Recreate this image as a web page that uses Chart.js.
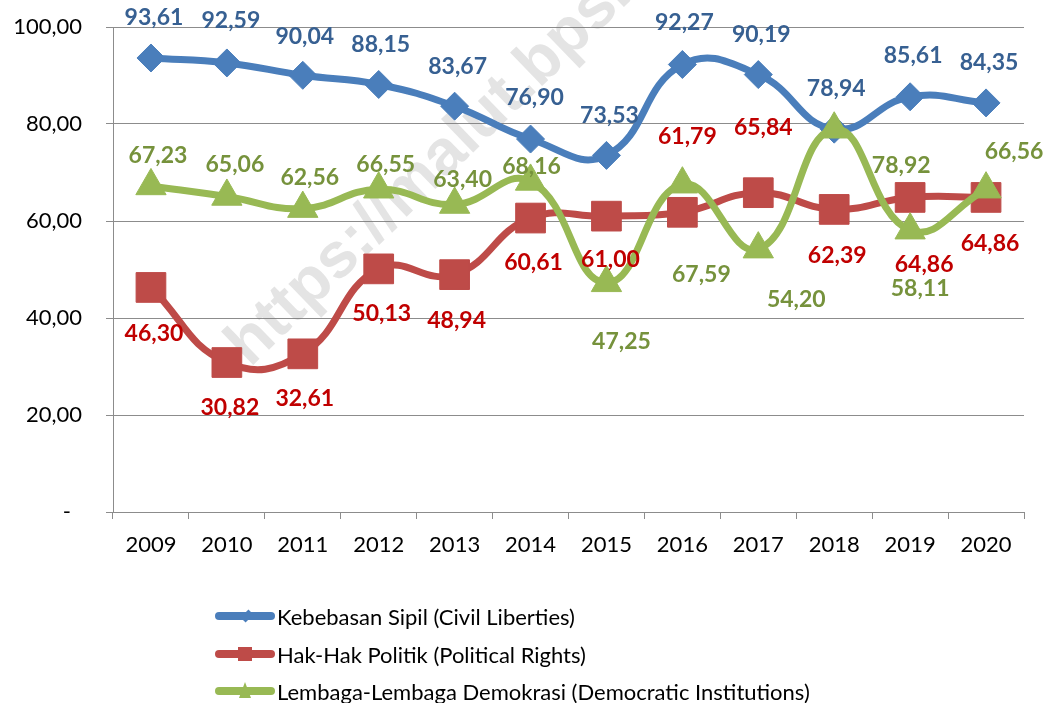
<!DOCTYPE html>
<html>
<head>
<meta charset="utf-8">
<script src="https://cdn.jsdelivr.net/npm/chart.js@4.4.1/dist/chart.umd.min.js"></script>
<style>
  html, body { margin: 0; padding: 0; background: #ffffff; }
  #wrap { position: relative; width: 1059px; height: 703px; overflow: hidden; }
  #c { position: absolute; left: 0; top: 0; }
  .leg { position: absolute; left: 215px; height: 30px; display: flex; align-items: center;
         font-family: Lato, "Noto Sans", sans-serif; font-size: 22px; color: #000; white-space: nowrap; }
  .icon { position: relative; width: 60px; height: 30px; margin-right: 2px; }
  .bar { position: absolute; left: 0; top: 11px; width: 60px; height: 8px; border-radius: 4px; }
  .mk { position: absolute; }
</style>
</head>
<body>
<div id="wrap">
  <canvas id="c" width="1059" height="703"></canvas>
  <div id="legend"></div>
</div>
<script>
// ---- data ----
const years = ['2009','2010','2011','2012','2013','2014','2015','2016','2017','2018','2019','2020'];
const seriesNames = [
  'Kebebasan Sipil (Civil Liberties)',
  'Hak-Hak Politik (Political Rights)',
  'Lembaga-Lembaga Demokrasi (Democratic Institutions)'
];
const civilLiberties = [93.61, 92.59, 90.04, 88.15, 83.67, 76.90, 73.53, 92.27, 90.19, 78.94, 85.61, 84.35];
const politicalRights = [46.30, 30.82, 32.61, 50.13, 48.94, 60.61, 61.00, 61.79, 65.84, 62.39, 64.86, 64.86];
const democraticInstitutions = [67.23, 65.06, 62.56, 66.55, 63.40, 68.16, 47.25, 67.59, 54.20, 78.92, 58.11, 66.56];
const yTicks = [0, 20, 40, 60, 80, 100];
const watermarkText = 'https://malut.bps.go.id';

// ---- label placement (pixel nudges relative to each point) ----
const labelNudge = [
  [[3,-41],[4,-43],[2,-40],[2,-41],[3,-41],[4,-42],[3,-41],[2,-43],[3,-41],[2,-41],[3,-42],[3,-41]],
  [[3,45],[3,44],[2,44],[3,44],[2,45],[3,44],[4,43],[5,-77],[5,-66],[3,45],[14,66],[4,45]],
  [[7,-31],[8,-33],[7,-32],[7,-26],[8,-26],[1,-16],[15,58],[19,90],[38,50],[67,35],[10,58],[28,-38]]
];

const lineColors = ['#4A7EBB', '#BE4B48', '#98B954'];
const labelColors = ['#376092', '#C00000', '#76923C'];
const pointStyles = ['rectRot', 'rect', 'triangle'];
const pointRadii = [14, 21, 17.5];
const fmt = v => v.toFixed(2).replace('.', ',');

const valueLabels = {
  id: 'valueLabels',
  afterDatasetsDraw(chart) {
    const ctx = chart.ctx;
    ctx.save();
    ctx.font = 'bold 23px Lato';
    ctx.textAlign = 'center';
    ctx.textBaseline = 'alphabetic';
    chart.data.datasets.forEach((ds, i) => {
      const meta = chart.getDatasetMeta(i);
      ctx.fillStyle = labelColors[i];
      meta.data.forEach((pt, j) => {
        const n = labelNudge[i][j];
        ctx.fillText(fmt(ds.data[j]), pt.x + n[0], pt.y + n[1] + 8.3);
      });
    });
    ctx.restore();
  }
};

const watermark = {
  id: 'watermark',
  beforeDatasetsDraw(chart) {
    const ctx = chart.ctx;
    ctx.save();
    ctx.translate(250, 368);
    ctx.rotate(-44 * Math.PI / 180);
    ctx.font = 'bold 64px "Liberation Sans"';
    ctx.fillStyle = 'rgba(120,120,120,0.2)';
    ctx.textBaseline = 'alphabetic';
    ctx.fillText(watermarkText, 0, 0);
    ctx.restore();
  }
};

const seriesData = [civilLiberties, politicalRights, democraticInstitutions];
const datasets = seriesData.map((d, i) => ({
  label: seriesNames[i],
  data: d,
  borderColor: lineColors[i],
  backgroundColor: lineColors[i],
  borderWidth: 7,
  tension: 0.45,
  pointStyle: pointStyles[i],
  pointRadius: pointRadii[i],
  pointHoverRadius: pointRadii[i],
  pointBackgroundColor: lineColors[i],
  pointBorderColor: lineColors[i],
  pointBorderWidth: 1,
  fill: false,
  order: 3 - i,
  clip: false
}));

new Chart(document.getElementById('c'), {
  type: 'line',
  data: { labels: years, datasets },
  options: {
    responsive: false,
    animation: false,
    events: [],
    layout: { autoPadding: false, padding: { left: 0, top: 27, right: 35, bottom: 0 } },
    plugins: { legend: { display: false }, tooltip: { enabled: false } },
    scales: {
      x: {
        offset: true,
        grid: { display: true, drawOnChartArea: false, drawTicks: true, offset: true, tickLength: 7, color: '#8c8c8c', lineWidth: 1 },
        border: { display: true, color: '#8c8c8c', width: 1 },
        ticks: { color: '#000', font: { family: 'Lato', size: 22 }, padding: 13, maxRotation: 0, autoSkip: false },
        afterFit(s) { s.height = 191; }
      },
      y: {
        min: 0, max: 100,
        afterBuildTicks(s) { s.ticks = yTicks.map(v => ({ value: v })); },
        grid: { display: true, drawTicks: true, tickLength: 7, color: '#8c8c8c', lineWidth: 1 },
        border: { display: true, color: '#8c8c8c', width: 1 },
        ticks: { color: '#000', font: { family: 'Lato', size: 22 }, padding: 24,
                 callback: v => v === 0 ? '-\u2002' : fmt(v) },
        afterFit(s) { s.width = 113; s.paddingTop = 10; s.paddingBottom = 10; }
      }
    }
  },
  plugins: [watermark, valueLabels]
});

// ---- HTML legend ----
const legendTops = [601, 639, 676];
const legend = document.getElementById('legend');
seriesNames.forEach((name, i) => {
  const row = document.createElement('div');
  row.className = 'leg';
  row.style.top = legendTops[i] + 'px';
  const icon = document.createElement('div');
  icon.className = 'icon';
  const bar = document.createElement('div');
  bar.className = 'bar';
  bar.style.background = lineColors[i];
  icon.appendChild(bar);
  const mk = document.createElement('div');
  mk.className = 'mk';
  if (i === 0) {
    Object.assign(mk.style, { left: '28px', top: '11px', width: '8px', height: '8px', background: lineColors[i], transform: 'rotate(45deg) scale(0.9,1.4)' });
  } else if (i === 1) {
    Object.assign(mk.style, { left: '23px', top: '8px', width: '14px', height: '14px', background: lineColors[i] });
  } else {
    Object.assign(mk.style, { left: '24px', top: '6px', width: '0', height: '0',
      borderLeft: '6px solid transparent', borderRight: '6px solid transparent', borderBottom: '16px solid ' + lineColors[i] });
  }
  icon.appendChild(mk);
  row.appendChild(icon);
  const t = document.createElement('span');
  t.textContent = name;
  row.appendChild(t);
  legend.appendChild(row);
});
</script>
</body>
</html>
